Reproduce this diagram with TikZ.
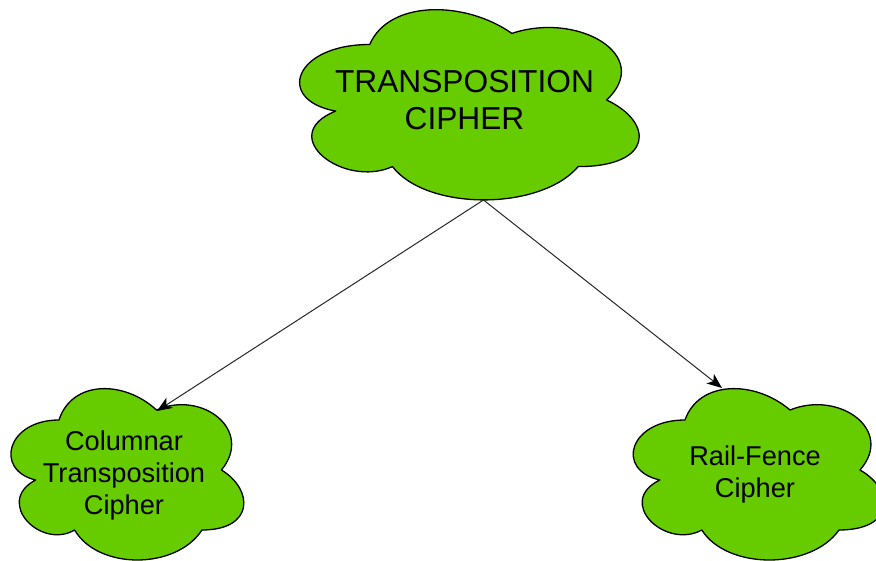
\documentclass[tikz,border=0pt]{standalone}
\usepackage{fontspec}
\setmainfont{Liberation Sans}
\usetikzlibrary{arrows.meta,backgrounds}

\definecolor{leafgreen}{HTML}{66CC00}

% cloud outline in unit coordinates, laid over the rectangle of node #1
% #2 = width, #3 = height, #4 = vertical offset of the cloud against the text
\newcommand\cloudbehind[4]{%
  \begin{scope}[on background layer]
    \path[cloudfill, shift={([yshift=#4]#1.north west)}, x=#2, y=-#3]
      (0.25,0.25) .. controls (0.05,0.25) and (0,0.5) .. (0.16,0.55)
      .. controls (0,0.66) and (0.18,0.9) .. (0.31,0.8)
      .. controls (0.4,1) and (0.7,1) .. (0.8,0.8)
      .. controls (1,0.8) and (1,0.6) .. (0.875,0.5)
      .. controls (1,0.3) and (0.8,0.1) .. (0.625,0.2)
      .. controls (0.5,0.05) and (0.3,0.05) .. (0.25,0.25) -- cycle;
  \end{scope}}

\tikzset{
  cloudfill/.style={fill=leafgreen, draw=black, line width=1.3pt, line join=round},
  cloudnode/.style 2 args={rectangle, inner sep=0pt, outer sep=0pt,
    minimum width=#1, minimum height=#2, align=center, text=black},
  bigtext/.style={font=\fontsize{31.7pt}{37pt}\selectfont},
  smalltext/.style={font=\fontsize{27.2pt}{32pt}\selectfont},
  link/.style={draw=black!85, line width=1pt,
    -{Stealth[length=15pt, width=12pt, inset=4pt, color=black, fill=black]}},
}

\begin{document}
\begin{tikzpicture}[x=1pt, y=-1pt]
  \useasboundingbox (0,0) rectangle (876,561);

  \node[cloudnode={379pt}{222pt}, bigtext] (root) at (464.5,100)
    {TRANSPOSITION\\CIPHER};
  \node[cloudnode={260pt}{200pt}, smalltext] (columnar) at (124,475)
    {Columnar\\Transposition\\Cipher};
  \node[cloudnode={280pt}{200pt}, smalltext] (railfence) at (755,474)
    {Rail-Fence\\Cipher};

  \cloudbehind{root}{379pt}{222pt}{0pt}
  \cloudbehind{columnar}{260pt}{200pt}{5pt}
  \cloudbehind{railfence}{280pt}{200pt}{4pt}

  \draw[link] ([xshift=19pt, yshift=11pt]root.south)
    -- ([xshift=33pt, yshift=-36pt]columnar.north);
  \draw[link] ([xshift=19pt, yshift=11pt]root.south)
    -- ([xshift=-33pt, yshift=-14pt]railfence.north);
\end{tikzpicture}
\end{document}
